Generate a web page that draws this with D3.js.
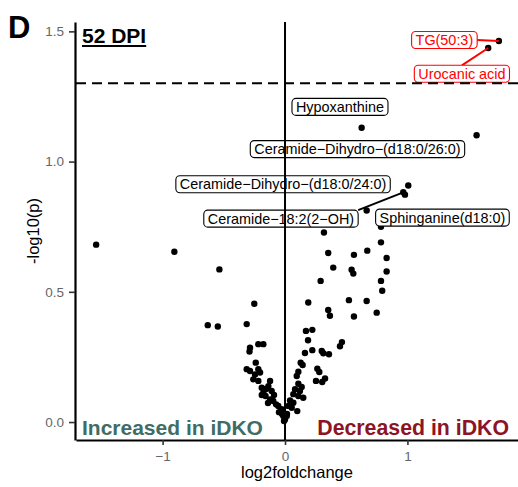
<!DOCTYPE html>
<html>
<head>
<meta charset="utf-8">
<script src="https://cdn.jsdelivr.net/npm/d3@7"></script>
<style>
  body { margin: 0; background: #fff; }
  svg { display: block; font-family: "Liberation Sans", Arial, sans-serif; }
</style>
</head>
<body>
<div id="chart"></div>
<script>
// [log2foldchange, -log10(p)]
var topHits = [
  [1.747, 1.463], [1.660, 1.436], [0.626, 1.130], [1.565, 1.101],
  [1.007, 0.908], [0.966, 0.882], [0.980, 0.873], [0.667, 0.812], [0.784, 0.750]
];
var rightArm = [
  [0.318, 0.728], [0.784, 0.690], [0.353, 0.649], [0.563, 0.642], [0.672, 0.658],
  [0.830, 0.630], [0.394, 0.593], [0.544, 0.585], [0.558, 0.570], [0.830, 0.578],
  [0.291, 0.542], [0.784, 0.542], [0.794, 0.504], [0.522, 0.468], [0.667, 0.465],
  [0.190, 0.459], [0.353, 0.430], [0.367, 0.408], [0.563, 0.405], [0.749, 0.420],
  [0.171, 0.350], [0.223, 0.354], [0.188, 0.314], [0.465, 0.307], [0.449, 0.291],
  [0.223, 0.276], [0.163, 0.265], [0.300, 0.273], [0.313, 0.264], [0.359, 0.260],
  [0.128, 0.228], [0.144, 0.219], [0.264, 0.205], [0.280, 0.192], [0.109, 0.193],
  [0.096, 0.177], [0.327, 0.167], [0.304, 0.154], [0.253, 0.158], [0.109, 0.147],
  [0.136, 0.135], [0.082, 0.126], [0.122, 0.119], [0.068, 0.107], [0.109, 0.100],
  [0.149, 0.093], [0.041, 0.083], [0.068, 0.074], [0.027, 0.062], [0.055, 0.055],
  [0.100, 0.042], [0.014, 0.023], [0.016, 0.031], [0.000, 0.010], [-0.008, 0.004]
];
var leftArm = [
  [-1.543, 0.681], [-0.904, 0.654], [-0.536, 0.586], [-0.251, 0.454],
  [-0.631, 0.372], [-0.549, 0.367], [-0.313, 0.376],
  [-0.218, 0.299], [-0.177, 0.299], [-0.286, 0.285], [-0.290, 0.271], [-0.239, 0.228],
  [-0.313, 0.203], [-0.286, 0.196], [-0.218, 0.203], [-0.204, 0.190], [-0.245, 0.183],
  [-0.259, 0.164], [-0.218, 0.158], [-0.122, 0.158], [-0.136, 0.138], [-0.190, 0.132],
  [-0.177, 0.113], [-0.109, 0.119], [-0.190, 0.104], [-0.155, 0.127], [-0.159, 0.100],
  [-0.090, 0.104], [-0.122, 0.087], [-0.096, 0.081], [-0.139, 0.073], [-0.073, 0.068],
  [-0.055, 0.062], [-0.027, 0.049], [-0.049, 0.038], [-0.024, 0.031], [-0.014, 0.036],
  [-0.014, 0.023]
];

var labelNames = ["TG(50:3)", "Urocanic acid", "Hypoxanthine",
  "Ceramide\u2212Dihydro\u2212(d18:0/26:0)", "Ceramide\u2212Dihydro\u2212(d18:0/24:0)",
  "Ceramide\u221218:2(2\u2212OH)", "Sphinganine(d18:0)"];
var labelPoint = [0, 1, 2, 3, 4, 5, 6];          // index into topHits
var labelAtFc = [1.302, 1.445, 0.449, 0.592, -0.016, -0.033, 1.286];
var labelAtP = [1.467, 1.337, 1.210, 1.048, 0.913, 0.781, 0.785];
var labelSegment = [true, true, false, false, false, true, false];

var xTicks = [-1, 0, 1];
var yTicks = [0, 0.5, 1.0, 1.5];
var pCutoff = 0.05;

var width = 518, height = 487;
var allPoints = topHits.concat(rightArm, leftArm);

function expand(e) {
  var r = e[1] - e[0];
  return [e[0] - 0.05 * r, e[1] + 0.05 * r];
}

var x = d3.scaleLinear()
  .domain(expand(d3.extent(allPoints, function (d) { return d[0]; })))
  .range([76, 519]);
var y = d3.scaleLinear()
  .domain(expand(d3.extent(allPoints, function (d) { return d[1]; })))
  .range([440, 22]);

var svg = d3.select("#chart").append("svg")
  .attr("width", width)
  .attr("height", height);

// points
svg.append("g")
  .selectAll("circle")
  .data(allPoints)
  .enter().append("circle")
  .attr("cx", function (d) { return x(d[0]); })
  .attr("cy", function (d) { return y(d[1]); })
  .attr("r", 3.2)
  .attr("fill", "#000");

// repelled labels
var sigLine = -Math.log10(pCutoff);
var labels = labelNames.map(function (name, i) {
  var p = topHits[labelPoint[i]];
  return { name: name, px: p[0], py: p[1], lx: labelAtFc[i], ly: labelAtP[i],
    seg: labelSegment[i], red: p[1] > sigLine };
});

var segG = svg.append("g");
var labG = svg.append("g");

labels.forEach(function (d) {
  var col = d.red ? "#f00" : "#000";
  var g = labG.append("g");
  var rect = g.append("rect");
  var t = g.append("text")
    .attr("x", x(d.lx))
    .attr("y", y(d.ly))
    .attr("dy", "0.35em")
    .attr("text-anchor", "middle")
    .attr("font-size", "14.4px")
    .attr("fill", col)
    .text(d.name);
  var w = t.node().getComputedTextLength() + 8, h = 17;
  var bx = x(d.lx) - w / 2, by = y(d.ly) - h / 2;
  rect.attr("x", bx).attr("y", by).attr("width", w).attr("height", h)
    .attr("rx", 4).attr("fill", "#fff").attr("stroke", col).attr("stroke-width", 1.1);

  if (d.seg) {
    // ggrepel style: connect from box centre/edge nearest the point
    var ptx = x(d.px), pty = y(d.py);
    var sx = ptx < bx ? bx : (ptx > bx + w ? bx + w : bx + w / 2);
    var sy = pty < by ? by : (pty > by + h ? by + h : by + h / 2);
    segG.append("line")
      .attr("x1", sx).attr("y1", sy).attr("x2", ptx).attr("y2", pty)
      .attr("stroke", col).attr("stroke-width", 2);
  }
});

// p = 0.05 line and zero line
svg.append("line")
  .attr("x1", x.range()[0]).attr("x2", x.range()[1])
  .attr("y1", y(sigLine)).attr("y2", y(sigLine))
  .attr("stroke", "#000").attr("stroke-width", 2)
  .attr("stroke-dasharray", "10,6");
svg.append("line")
  .attr("x1", x(0)).attr("x2", x(0))
  .attr("y1", y.range()[0]).attr("y2", y.range()[1])
  .attr("stroke", "#000").attr("stroke-width", 2);

// axes
var xAxis = svg.append("g")
  .attr("transform", "translate(0,440)")
  .call(d3.axisBottom(x).tickValues(xTicks).tickFormat(d3.format("d"))
    .tickSize(5).tickSizeOuter(0).tickPadding(6));
var yAxis = svg.append("g")
  .attr("transform", "translate(75,0)")
  .call(d3.axisLeft(y).tickValues(yTicks).tickFormat(d3.format(".1f"))
    .tickSize(6).tickSizeOuter(0).tickPadding(5));

[xAxis, yAxis].forEach(function (a) {
  a.select(".domain").attr("stroke", "#000").attr("stroke-width", 2.2);
  a.selectAll(".tick line").attr("stroke", "#333").attr("stroke-width", 1.6);
  a.selectAll(".tick text")
    .attr("font-family", "Liberation Sans, Arial, sans-serif")
    .attr("font-size", "13.5px")
    .attr("fill", "#666");
});

svg.append("text")
  .attr("x", 297).attr("y", 478)
  .attr("text-anchor", "middle")
  .attr("font-size", "16.5px")
  .text("log2foldchange");
svg.append("text")
  .attr("transform", "translate(39,231) rotate(-90)")
  .attr("text-anchor", "middle")
  .attr("font-size", "16.5px")
  .text("-log10(p)");

// direction notes
svg.append("text")
  .attr("x", 82).attr("y", 435)
  .attr("font-size", "21px").attr("font-weight", "bold")
  .attr("fill", "#3f6d66")
  .text("Increased in iDKO");
svg.append("text")
  .attr("x", 509).attr("y", 435)
  .attr("text-anchor", "end")
  .attr("font-size", "21.3px").attr("font-weight", "bold")
  .attr("fill", "#8c1425")
  .text("Decreased in iDKO");

// panel letter and timepoint
svg.append("text")
  .attr("x", 8).attr("y", 38)
  .attr("font-size", "31px").attr("font-weight", "bold")
  .text("D");
var dpi = svg.append("text")
  .attr("x", 82).attr("y", 43)
  .attr("font-size", "21px").attr("font-weight", "bold")
  .text("52 DPI");
var dpiLen = dpi.node().getComputedTextLength();
svg.append("line")
  .attr("x1", 82).attr("x2", 82 + dpiLen)
  .attr("y1", 46).attr("y2", 46)
  .attr("stroke", "#000").attr("stroke-width", 2);
</script>
</body>
</html>
